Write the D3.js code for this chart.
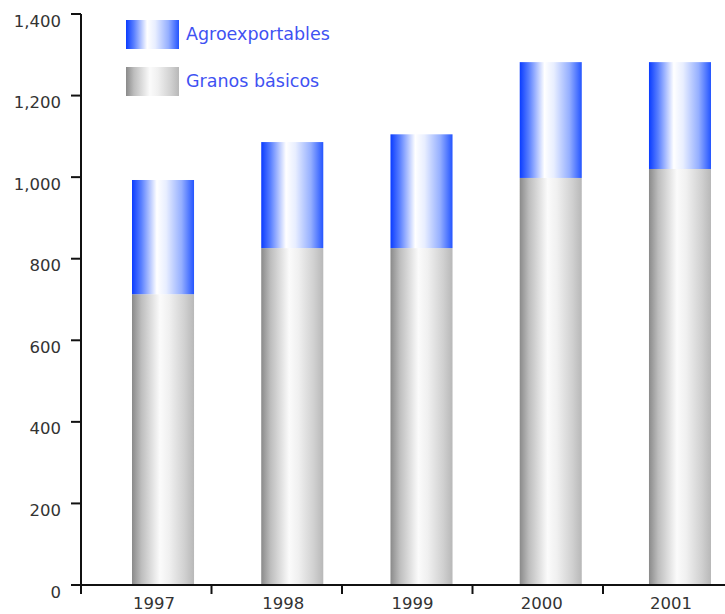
<!DOCTYPE html>
<html>
<head>
<meta charset="utf-8">
<script src="https://cdn.jsdelivr.net/npm/d3@7/dist/d3.min.js"></script>
<style>
  html, body { margin: 0; padding: 0; background: #fff; }
  svg { display: block; }
  text { font-family: "DejaVu Sans", sans-serif; }
</style>
</head>
<body>
<svg id="chart" width="725" height="614"></svg>
<script>
// Production by year (thousands), stacked: basic grains at the bottom, export crops on top
const years = ["1997", "1998", "1999", "2000", "2001"];
const granosBasicos = [713, 826, 826, 998, 1020];
const agroexportables = [280, 260, 279, 284, 262];
const seriesNames = ["Agroexportables", "Granos básicos"];
const yTicks = [0, 200, 400, 600, 800, 1000, 1200, 1400];

const svg = d3.select("#chart");

// Gradients giving the bars a cylindrical shading
const defs = svg.append("defs");
function cylinder(id, stops) {
  const g = defs.append("linearGradient").attr("id", id)
    .attr("x1", "0%").attr("x2", "100%").attr("y1", "0%").attr("y2", "0%");
  stops.forEach(([o, c]) => g.append("stop").attr("offset", o).attr("stop-color", c));
}
cylinder("gradBlue", [["0%", "#0a3cff"], ["15%", "#5a80ff"], ["40%", "#ffffff"], ["55%", "#e8eeff"], ["80%", "#95afff"], ["100%", "#2455ff"]]);
cylinder("gradGray", [["0%", "#8a8a8a"], ["15%", "#bdbdbd"], ["45%", "#fbfbfb"], ["60%", "#f0f0f0"], ["85%", "#d0d0d0"], ["100%", "#b8b8b8"]]);

// Scales
const y = d3.scaleLinear().domain([0, 1400]).range([585, 14]);
const xAxisBands = d3.scaleBand().domain(years).range([81, 81 + 5 * 130.5]);
const xBars = d3.scaleBand().domain(years).range([132, 711]).paddingInner(0.52).paddingOuter(0);

const axisColor = "#111";

// Stacked bars
const rows = years.map((yr, i) => ({ year: yr, g: granosBasicos[i], a: agroexportables[i] }));
svg.append("g").selectAll("rect").data(rows).join("rect")
  .attr("x", d => xBars(d.year))
  .attr("width", xBars.bandwidth())
  .attr("y", d => y(d.g))
  .attr("height", d => y(0) - y(d.g))
  .attr("fill", "url(#gradGray)");
svg.append("g").selectAll("rect").data(rows).join("rect")
  .attr("x", d => xBars(d.year))
  .attr("width", xBars.bandwidth())
  .attr("y", d => y(d.g + d.a))
  .attr("height", d => y(d.g) - y(d.g + d.a))
  .attr("fill", "url(#gradBlue)");

// Y axis
const yAxis = svg.append("g");
yAxis.append("line").attr("x1", 81).attr("x2", 81).attr("y1", y(1400)).attr("y2", y(0))
  .attr("stroke", axisColor).attr("stroke-width", 2);
yAxis.selectAll("line.tick").data(yTicks).join("line").attr("class", "tick")
  .attr("x1", 71).attr("x2", 81).attr("y1", d => y(d)).attr("y2", d => y(d))
  .attr("stroke", axisColor).attr("stroke-width", 2);
yAxis.selectAll("text").data(yTicks).join("text")
  .attr("x", 61).attr("y", d => y(d) + 8)
  .attr("text-anchor", "end").attr("dominant-baseline", "middle")
  .attr("font-size", 16.5).attr("fill", "#333")
  .text(d => d3.format(",")(d));

// X axis
const xAxis = svg.append("g");
xAxis.append("line").attr("x1", 71).attr("x2", 725).attr("y1", y(0)).attr("y2", y(0))
  .attr("stroke", axisColor).attr("stroke-width", 2);
xAxis.selectAll("line.tick").data(years).join("line").attr("class", "tick")
  .attr("x1", d => xAxisBands(d)).attr("x2", d => xAxisBands(d))
  .attr("y1", y(0)).attr("y2", y(0) + 9)
  .attr("stroke", axisColor).attr("stroke-width", 2);
xAxis.selectAll("text").data(years).join("text")
  .attr("x", d => xBars(d) + xBars.bandwidth() / 2 - 9)
  .attr("y", 604)
  .attr("text-anchor", "middle").attr("dominant-baseline", "middle")
  .attr("font-size", 16.5).attr("fill", "#333")
  .text(d => d);

// Legend
const legend = svg.append("g");
const legendFill = ["url(#gradBlue)", "url(#gradGray)"];
const legendY = [20, 67];
legend.selectAll("rect").data(seriesNames).join("rect")
  .attr("x", 126).attr("y", (d, i) => legendY[i])
  .attr("width", 53).attr("height", 29)
  .attr("fill", (d, i) => legendFill[i]);
legend.selectAll("text").data(seriesNames).join("text")
  .attr("x", 186).attr("y", (d, i) => legendY[i] + 15)
  .attr("dominant-baseline", "middle")
  .attr("font-size", 17.5).attr("fill", "#3f52f2")
  .text(d => d);
</script>
</body>
</html>
